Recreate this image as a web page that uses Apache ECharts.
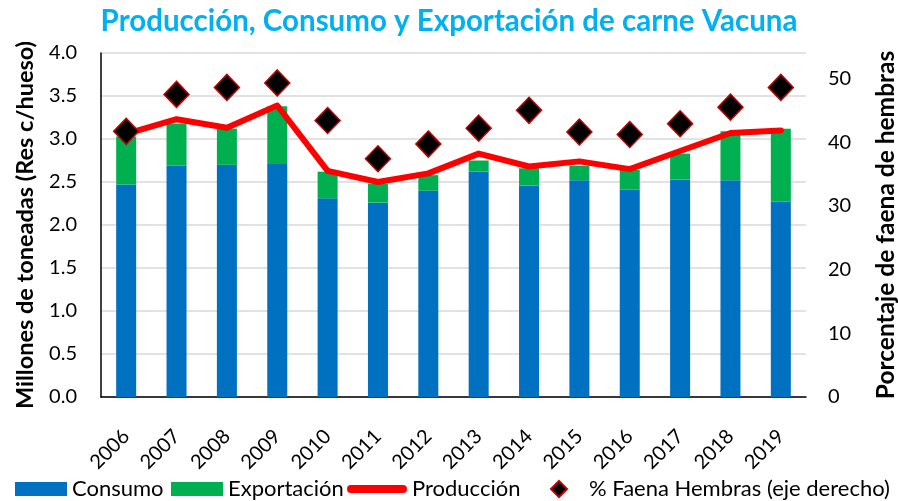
<!DOCTYPE html>
<html><head><meta charset="utf-8">
<script src="https://cdn.jsdelivr.net/npm/echarts@6/dist/echarts.min.js"></script>
<style>html,body{margin:0;padding:0;background:#fff}#c{width:898px;height:501px}</style>
</head><body><div id="c"></div>
<script>
var years = ['2006','2007','2008','2009','2010','2011','2012','2013','2014','2015','2016','2017','2018','2019'];
var consumo = [2.47,2.69,2.70,2.71,2.31,2.26,2.40,2.62,2.46,2.52,2.41,2.53,2.52,2.27];
var exportacion = [0.56,0.49,0.42,0.67,0.31,0.22,0.18,0.13,0.20,0.17,0.23,0.30,0.57,0.85];
var produccion = [3.06,3.23,3.13,3.39,2.63,2.50,2.60,2.83,2.68,2.74,2.65,2.86,3.07,3.10];
var faenaHembras = [41.7,47.5,48.6,49.3,43.4,37.4,39.7,42.2,45.0,41.6,41.2,42.9,45.5,48.6];
var leftTicks = ['0.0','0.5','1.0','1.5','2.0','2.5','3.0','3.5','4.0'];

var FONT = 'Lato';
var legText = {fontSize:22, color:'#000', fontFamily:FONT};
var chart = echarts.init(document.getElementById('c'), null, {renderer:'canvas'});
chart.setOption({
  animation:false,
  textStyle:{fontFamily:FONT},
  title:{text:'Producción, Consumo y Exportación de carne Vacuna', left:'center', top:1,
    textStyle:{color:'#00B0F0', fontSize:29.5, fontWeight:'bold', fontFamily:FONT}},
  grid:{left:101, right:92, top:53, bottom:104, outerBoundsMode:'none', containLabel:false},
  legend:[
    {left:15, top:478, padding:0, itemWidth:52, itemHeight:14, textStyle:legText,
      data:[{name:'Consumo', icon:'rect'}]},
    {left:171, top:478, padding:0, itemWidth:52, itemHeight:14, textStyle:legText,
      data:[{name:'Exportación', icon:'rect'}]},
    {left:347, top:478, padding:0, itemWidth:60, itemHeight:8, textStyle:legText,
      data:[{name:'Producción', icon:'path://M4,0 H56 A4,4 0 0 1 56,8 H4 A4,4 0 0 1 4,0 Z'}]},
    {left:550, top:478, padding:0, itemWidth:16, itemHeight:16,
      textStyle:{fontSize:22, color:'#000', fontFamily:FONT, padding:[0,0,0,17]},
      data:[{name:'% Faena Hembras (eje derecho)', icon:'diamond'}]}
  ],
  xAxis:{type:'category', data:years,
    axisLine:{lineStyle:{color:'#000', width:1.5}}, axisTick:{show:false},
    axisLabel:{rotate:45, fontSize:20, color:'#000', margin:36, fontFamily:FONT}},
  yAxis:[{type:'value', min:0, max:4, interval:0.5,
    name:'Millones de toneadas (Res c/hueso)', nameLocation:'middle', nameGap:64,
    nameTextStyle:{fontSize:23.5, fontWeight:'bold', color:'#000', fontFamily:FONT},
    axisLine:{show:true, lineStyle:{color:'#000', width:1.5}}, axisTick:{show:false},
    axisLabel:{fontSize:20, color:'#000', margin:24, fontFamily:FONT,
      formatter:function(v){return leftTicks[Math.round(v/0.5)];}},
    splitLine:{lineStyle:{color:'#d9d9d9', width:1.5}}
  },{type:'value', min:0, max:54, interval:10, position:'right',
    name:'Porcentaje de faena de hembras', nameLocation:'middle', nameGap:68,
    nameTextStyle:{fontSize:24.5, fontWeight:'bold', color:'#000', fontFamily:FONT},
    axisLine:{show:false}, axisTick:{show:false}, splitLine:{show:false},
    axisLabel:{fontSize:20, color:'#000', margin:22, fontFamily:FONT, showMaxLabel:false}
  }],
  series:[
    {name:'Consumo', type:'bar', stack:'t', data:consumo, barWidth:20,
      itemStyle:{color:'#0070C0'}},
    {name:'Exportación', type:'bar', stack:'t', data:exportacion, barWidth:20,
      itemStyle:{color:'#00B050'}},
    {name:'Producción', type:'line', data:produccion, symbol:'none',
      lineStyle:{color:'#FF0000', width:6, cap:'round', join:'round'}, itemStyle:{color:'#FF0000'}, z:5},
    {name:'% Faena Hembras (eje derecho)', type:'scatter', yAxisIndex:1, data:faenaHembras,
      symbol:'diamond', symbolSize:[25,26],
      itemStyle:{color:'#000', borderColor:'#C00000', borderWidth:1.5, opacity:1}, z:6}
  ]
});
</script></body></html>
